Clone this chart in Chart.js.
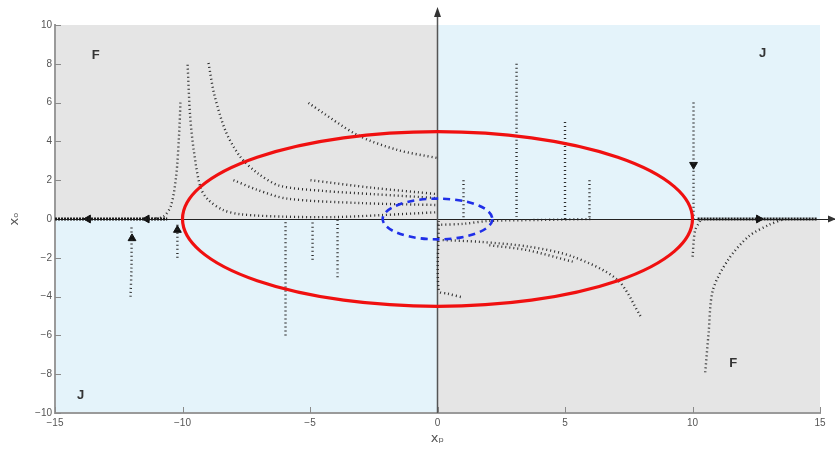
<!DOCTYPE html>
<html>
<head>
<meta charset="utf-8">
<script src="https://cdn.jsdelivr.net/npm/chart.js@4.4.0/dist/chart.umd.min.js"></script>
<style>
  html, body { margin: 0; padding: 0; background: #fff; }
</style>
</head>
<body>
<canvas id="phase" width="835" height="451"></canvas>
<script>
const xTicks = [-15, -10, -5, 0, 5, 10, 15];
const yTicks = [-10, -8, -6, -4, -2, 0, 2, 4, 6, 8, 10];

// trajectories, pairs of [x_p, x_o]
const pathA = [[-10.08, 6.0], [-10.14, 4.2], [-10.25, 2.2], [-10.45, 0.7], [-10.75, 0.12], [-11.2, 0.02]];
const pathB = [[-9.8, 7.95], [-9.7, 5.3], [-9.56, 3.56], [-9.3, 1.65], [-9.0, 1.0], [-8.4, 0.46], [-7.7, 0.24], [-6.0, 0.12], [-4.0, 0.1], [-2.2, 0.2], [0, 0.35]];
const pathC = [[-8.98, 8.04], [-8.75, 6.4], [-8.3, 4.5], [-7.73, 3.2], [-7.06, 2.37], [-6.2, 1.72], [-4.5, 1.45], [-2.5, 1.28], [0, 1.08]];
const pathD = [[-5.06, 5.98], [-3.14, 4.33], [-1.57, 3.56], [0, 3.14]];
const pathE = [[-8.0, 2.0], [-7.06, 1.5], [-5.9, 1.05], [-3.0, 0.82], [0, 0.72]];
const pathF = [[-4.98, 2.0], [-2.5, 1.6], [0, 1.28]];
const pathG = [[-12.04, -4.0], [-12.0, -2.5], [-12.0, -0.3]];
const pathH = [[-10.2, -2.0], [-10.2, -0.2]];
const pathI = [[-5.96, -6.0], [-5.96, 0]];
const pathJ = [[-4.9, -2.1], [-4.9, 0]];
const pathK = [[-3.92, -3.0], [-3.92, 0]];
const pathL = [[1.02, 2.0], [1.02, 0]];
const pathM = [[3.1, 8.0], [3.1, 0]];
const pathN = [[5.0, 5.0], [5.0, 0]];
const pathO = [[5.96, 2.0], [5.96, 0]];
const pathP = [[10.04, 6.0], [10.04, 0]];
const pathQ = [[10.3, -0.1], [10.1, -0.6], [10.0, -2.0]];
const pathR = [[0.05, -0.1], [0.05, -3.7], [0.4, -3.85], [1.0, -4.05]];
const pathS = [[7.96, -5.0], [7.06, -3.14], [5.33, -1.95], [3.65, -1.44], [1.69, -1.18], [0.1, -1.08]];
const pathT = [[5.3, -2.2], [3.5, -1.6], [2.0, -1.35]];
const pathU = [[10.5, -7.9], [10.63, -5.9], [10.8, -3.66], [11.4, -2.1], [12.2, -0.9], [13.0, -0.3], [13.6, 0]];
const pathV = [[0, -0.3], [1.0, -0.25], [2.0, -0.1], [4.0, -0.05], [6.0, 0]];
const axisLeft = [[-15, 0], [-10.6, 0]];
const axisRight = [[10.2, 0], [14.9, 0]];

const trajectories = [pathA, pathB, pathC, pathD, pathE, pathF, pathG, pathH, pathI, pathJ, pathK,
  pathL, pathM, pathN, pathO, pathP, pathQ, pathR, pathS, pathT, pathU, pathV];

// direction arrows on the flow
const arrowX = [-13.7, -11.4, -11.98, -10.2, 10.04, 12.6];
const arrowY = [0, 0, -1.0, -0.57, 2.8, 0];
const arrowAngle = [270, 270, 0, 0, 180, 90];

// region letters
const regionText = ['F', 'J', 'J', 'F'];
const regionX = [-13.4, 12.75, -14.0, 11.6];
const regionY = [8.45, 8.55, -9.1, -7.45];

// red boundary ellipse and blue dashed inner ellipse, centre 0,0
const ellipseRx = [10, 2.15];
const ellipseRy = [4.5, 1.05];

const GRAY = '#e5e5e5';
const BLUE = '#e4f3fa';

const toXY = pts => pts.map(p => ({ x: p[0], y: p[1] }));

const datasets = trajectories.map(p => ({
  data: toXY(p),
  showLine: true,
  borderColor: '#2b2b2b',
  borderWidth: 2.4,
  borderDash: [1, 3],
  pointRadius: 0,
  tension: 0.3
}));
[axisLeft, axisRight].forEach(p => datasets.push({
  data: toXY(p),
  showLine: true,
  borderColor: '#1a1a1a',
  borderWidth: 3,
  borderDash: [2, 1],
  pointRadius: 0
}));
datasets.push({
  data: arrowX.map((v, i) => ({ x: v, y: arrowY[i] })),
  showLine: false,
  pointStyle: 'triangle',
  pointRadius: 4.5,
  rotation: arrowAngle,
  backgroundColor: '#111',
  borderColor: '#111',
  borderWidth: 1
});

const phasePlugin = {
  id: 'phase',
  beforeDraw(chart) {
    const { ctx, chartArea: a, scales: { x, y } } = chart;
    const x0 = x.getPixelForValue(0);
    const y0 = y.getPixelForValue(0);
    ctx.save();
    ctx.fillStyle = GRAY;
    ctx.fillRect(a.left, a.top, x0 - a.left, y0 - a.top);
    ctx.fillRect(x0, y0, a.right - x0, a.bottom - y0);
    ctx.fillStyle = BLUE;
    ctx.fillRect(x0, a.top, a.right - x0, y0 - a.top);
    ctx.fillRect(a.left, y0, x0 - a.left, a.bottom - y0);
    ctx.restore();
  },
  beforeDatasetsDraw(chart) {
    const { ctx, chartArea: a, scales: { x, y } } = chart;
    const x0 = x.getPixelForValue(0);
    const y0 = y.getPixelForValue(0);
    ctx.save();
    // inward ticks
    ctx.strokeStyle = '#8a8a8a';
    ctx.lineWidth = 1;
    ctx.beginPath();
    yTicks.forEach(v => {
      const py = Math.round(y.getPixelForValue(v)) + 0.5;
      ctx.moveTo(a.left, py);
      ctx.lineTo(a.left + 6, py);
    });
    xTicks.forEach(v => {
      const px = Math.round(x.getPixelForValue(v)) + 0.5;
      ctx.moveTo(px, a.bottom);
      ctx.lineTo(px, a.bottom - 6);
    });
    ctx.stroke();
    // zero axes with arrow heads
    ctx.strokeStyle = '#222';
    ctx.fillStyle = '#222';
    ctx.lineWidth = 1;
    ctx.beginPath();
    ctx.moveTo(a.left, Math.round(y0) + 0.5);
    ctx.lineTo(chart.width, Math.round(y0) + 0.5);
    ctx.stroke();
    ctx.strokeStyle = '#555';
    ctx.lineWidth = 1.5;
    ctx.beginPath();
    ctx.moveTo(x0, a.bottom);
    ctx.lineTo(x0, a.top - 12);
    ctx.stroke();
    ctx.fillStyle = '#333';
    ctx.beginPath();
    ctx.moveTo(x0, a.top - 18);
    ctx.lineTo(x0 - 3.5, a.top - 8);
    ctx.lineTo(x0 + 3.5, a.top - 8);
    ctx.closePath();
    ctx.fill();
    ctx.beginPath();
    ctx.moveTo(chart.width + 1, y0);
    ctx.lineTo(chart.width - 7, y0 - 3.5);
    ctx.lineTo(chart.width - 7, y0 + 3.5);
    ctx.closePath();
    ctx.fill();
    // region letters
    ctx.fillStyle = '#333';
    ctx.font = 'bold 13px "Liberation Sans", Arial, sans-serif';
    ctx.textAlign = 'center';
    ctx.textBaseline = 'middle';
    regionText.forEach((t, i) => {
      ctx.fillText(t, x.getPixelForValue(regionX[i]), y.getPixelForValue(regionY[i]));
    });
    ctx.restore();
  },
  afterDatasetsDraw(chart) {
    const { ctx, scales: { x, y } } = chart;
    const cx = x.getPixelForValue(0);
    const cy = y.getPixelForValue(0);
    ctx.save();
    ctx.lineWidth = 3.2;
    ctx.strokeStyle = '#f01010';
    ctx.beginPath();
    ctx.ellipse(cx, cy, x.getPixelForValue(ellipseRx[0]) - cx, cy - y.getPixelForValue(ellipseRy[0]), 0, 0, Math.PI * 2);
    ctx.stroke();
    ctx.lineWidth = 2.6;
    ctx.strokeStyle = '#1f2fe8';
    ctx.setLineDash([7, 5]);
    ctx.beginPath();
    ctx.ellipse(cx, cy, x.getPixelForValue(ellipseRx[1]) - cx, cy - y.getPixelForValue(ellipseRy[1]), 0, 0, Math.PI * 2);
    ctx.stroke();
    ctx.restore();
  }
};

const tickFont = { family: '"Liberation Sans", Arial, sans-serif', size: 10 };
const minus = v => String(v).replace('-', '\u2212');

new Chart(document.getElementById('phase'), {
  type: 'scatter',
  data: { datasets },
  options: {
    responsive: false,
    animation: false,
    layout: { padding: { top: 25, right: 15, left: 0, bottom: 0 } },
    plugins: { legend: { display: false }, tooltip: { enabled: false } },
    scales: {
      x: {
        type: 'linear',
        min: -15,
        max: 15,
        afterBuildTicks: s => { s.ticks = xTicks.map(v => ({ value: v })); },
        afterFit: s => { s.height = 38; },
        grid: { drawOnChartArea: false, drawTicks: false },
        border: { color: '#9a9a9a', width: 2 },
        ticks: { padding: 4, color: '#555', font: tickFont, maxRotation: 0, autoSkip: false, callback: minus },
        title: {
          display: true,
          text: 'x\u209A',
          color: '#555',
          font: { family: '"DejaVu Sans", sans-serif', size: 13 },
          padding: { top: 0, bottom: 5 }
        }
      },
      y: {
        type: 'linear',
        min: -10,
        max: 10,
        afterBuildTicks: s => { s.ticks = yTicks.map(v => ({ value: v })); },
        afterFit: s => { s.width = 55; },
        grid: { drawOnChartArea: false, drawTicks: false },
        border: { color: '#9a9a9a', width: 2 },
        ticks: { padding: 3, color: '#555', font: tickFont, autoSkip: false, callback: minus },
        title: {
          display: true,
          text: 'x\u2092',
          color: '#555',
          font: { family: '"DejaVu Sans", sans-serif', size: 13 },
          padding: { top: 7, bottom: 0 }
        }
      }
    }
  },
  plugins: [phasePlugin]
});
</script>
</body>
</html>
